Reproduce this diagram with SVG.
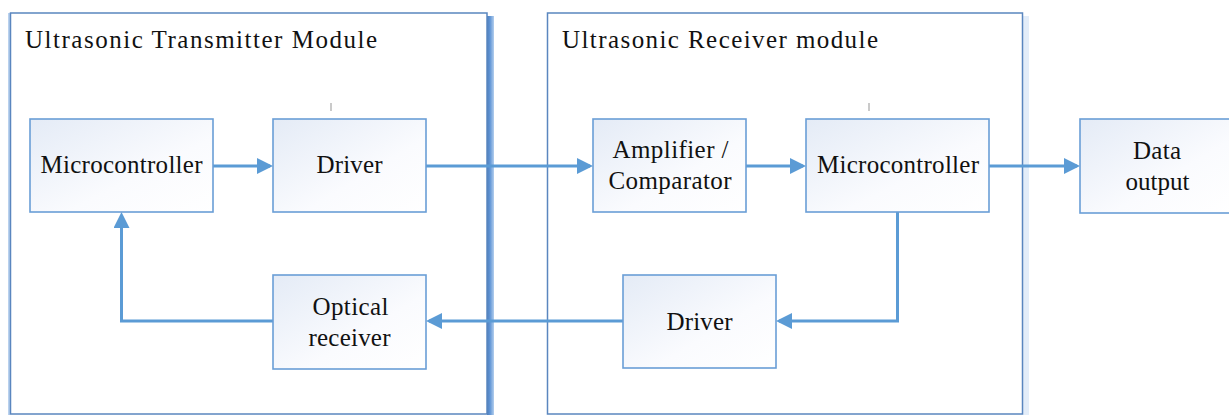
<svg xmlns="http://www.w3.org/2000/svg" width="1229" height="416" viewBox="0 0 1229 416">
  <defs>
    <linearGradient id="boxFill" x1="0" y1="0" x2="1" y2="1">
      <stop offset="0" stop-color="#E4EBF6"/>
      <stop offset="0.6" stop-color="#FAFBFE"/>
      <stop offset="1" stop-color="#FFFFFF"/>
    </linearGradient>
    <linearGradient id="edgeShade" x1="0" y1="0" x2="1" y2="0">
      <stop offset="0" stop-color="#4B7CBE"/>
      <stop offset="0.45" stop-color="#6397D6"/>
      <stop offset="1" stop-color="#B4CFEE"/>
    </linearGradient>
    <marker id="arrow" viewBox="0 0 16 16" markerWidth="16" markerHeight="16" refX="13" refY="8" orient="auto" markerUnits="userSpaceOnUse">
      <path d="M0,0 L16,8 L0,16 z" fill="#5B9BD5"/>
    </marker>
    <style>
      .module { fill: #FFFFFF; stroke: #5A86BF; stroke-width: 1.5; }
      .box { fill: url(#boxFill); stroke: #6A9ED6; stroke-width: 1.6; }
      text { font-family: "Times New Roman", "Liberation Serif", "DejaVu Serif", "Noto Serif", FreeSerif, serif; font-size: 25px; fill: #111111; }
      .label { text-anchor: middle; }
      .wire { fill: none; stroke: #5B9BD5; stroke-width: 3; }
      .tick { stroke: #B8B8B8; stroke-width: 1.5; }
    </style>
  </defs>

  <rect width="1229" height="416" fill="#FFFFFF"/>

  <!-- Transmitter module frame -->
  <g id="transmitter-module">
    <rect x="8" y="13" width="2" height="402" fill="#B9D1EE"/>
    <rect x="487" y="16" width="7" height="399" fill="url(#edgeShade)"/>
    <rect class="module" x="10.5" y="13" width="476.5" height="401"/>
    <text class="title" x="25" y="48" textLength="352" lengthAdjust="spacing">Ultrasonic Transmitter Module</text>
  </g>

  <!-- Receiver module frame -->
  <g id="receiver-module">
    <rect x="1023" y="16" width="6" height="399" fill="#DCE8F7" opacity="0.8"/>
    <rect class="module" x="547.5" y="13" width="475" height="401"/>
    <text class="title" x="562" y="48" textLength="316" lengthAdjust="spacing">Ultrasonic Receiver module</text>
  </g>

  <!-- Connectors -->
  <g id="connectors">
    <path class="wire" d="M213 166 H270" marker-end="url(#arrow)"/>
    <path class="wire" d="M426 166 H590" marker-end="url(#arrow)"/>
    <path class="wire" d="M746 166 H803" marker-end="url(#arrow)"/>
    <path class="wire" d="M989 166 H1077" marker-end="url(#arrow)"/>
    <path class="wire" d="M897.5 212 V321 H779" marker-end="url(#arrow)"/>
    <path class="wire" d="M623 321 H429" marker-end="url(#arrow)"/>
    <path class="wire" d="M273 321 H121.5 V215" marker-end="url(#arrow)"/>
  </g>

  <g id="tx-microcontroller">
    <rect class="box" x="30" y="119" width="183" height="93"/>
    <text class="label" x="121.5" y="173" textLength="162" lengthAdjust="spacing">Microcontroller</text>
  </g>

  <g id="tx-driver">
    <line class="tick" x1="331" y1="103" x2="331" y2="111"/>
    <rect class="box" x="273" y="119" width="153" height="93"/>
    <text class="label" x="349.5" y="173" textLength="66" lengthAdjust="spacing">Driver</text>
  </g>

  <g id="optical-receiver">
    <rect class="box" x="273" y="275" width="153" height="94"/>
    <text class="label" x="350.5" y="315" textLength="76" lengthAdjust="spacing">Optical</text>
    <text class="label" x="349.5" y="346" textLength="82" lengthAdjust="spacing">receiver</text>
  </g>

  <g id="amplifier-comparator">
    <rect class="box" x="593" y="119" width="153" height="93"/>
    <text class="label" x="670.5" y="158" textLength="116" lengthAdjust="spacing">Amplifier /</text>
    <text class="label" x="670" y="189" textLength="123" lengthAdjust="spacing">Comparator</text>
  </g>

  <g id="rx-microcontroller">
    <line class="tick" x1="869" y1="103" x2="869" y2="111"/>
    <rect class="box" x="806" y="119" width="183" height="93"/>
    <text class="label" x="898" y="173" textLength="162" lengthAdjust="spacing">Microcontroller</text>
  </g>

  <g id="rx-driver">
    <rect class="box" x="623" y="275" width="153" height="93"/>
    <text class="label" x="699.5" y="330" textLength="66" lengthAdjust="spacing">Driver</text>
  </g>

  <g id="data-output">
    <rect class="box" x="1080" y="119" width="154" height="94"/>
    <text class="label" x="1157" y="159" textLength="48" lengthAdjust="spacing">Data</text>
    <text class="label" x="1157.5" y="190" textLength="64" lengthAdjust="spacing">output</text>
  </g>
</svg>
